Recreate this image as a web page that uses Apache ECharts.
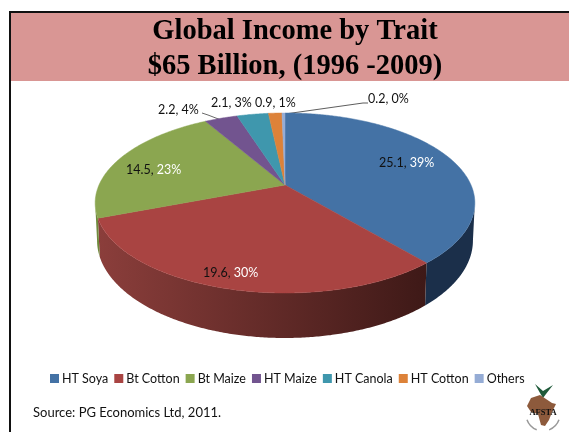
<!DOCTYPE html>
<html>
<head>
<meta charset="utf-8">
<style>
html, body { margin: 0; padding: 0; background: #fff; }
#chart { width: 569px; height: 432px; }
</style>
<script src="https://cdn.jsdelivr.net/npm/echarts@6/dist/echarts.min.js"></script>
</head>
<body>
<div id="chart"></div>
<script>
// values (US$ billion)
var traits = ['HT Soya', 'Bt Cotton', 'Bt Maize', 'HT Maize', 'HT Canola', 'HT Cotton', 'Others']
var income = [25.1, 19.6, 14.5, 2.2, 2.1, 0.9, 0.2]
var shares = [39, 30, 23, 4, 3, 1, 0]

var colors = ['#4472a5', '#a94442', '#8ba650', '#72548f', '#3f97ad', '#dd8239', '#95acd5']
var sideColors = [
  ['#1b2f4a', '#1b2f4a'],
  ['#8b3e3b', '#3e1917'],
  ['#6f8a3c', '#6f8a3c'],
  ['#4a3560', '#4a3560'],
  ['#28606f', '#28606f'],
  ['#8f5424', '#8f5424'],
  ['#5f7090', '#5f7090']
]
// label anchors, left edge / middle
var labelPos = [[379, 163], [203, 273], [126, 170], [158, 110], [211, 103], [255, 103], [368, 99]]
var shareOnDark = [true, true, true, false, false, false, false]

// perspective pie: apex of the slices and the rim projection
var cx = 285
var cy = 185
var rimX = 186
var rimY = 86.4
var tilt = 0.2
var depth = 36

function rim (deg, drop) {
  var a = deg * Math.PI / 180
  var w = 1 + tilt * Math.cos(a)
  var k = drop ? 0.99 : 1
  return [
    cx + rimX * k * Math.sin(a) / w,
    cy - rimY * Math.cos(a) / w + (drop ? depth / w : 0)
  ]
}

var total = income.reduce(function (s, v) { return s + v }, 0)

function startAngle (idx) {
  var s = 0
  for (var i = 0; i < idx; i++) s += income[i]
  return s / total * 360
}

function renderSlice (idx) {
  return function (params, api) {
    var from = startAngle(idx)
    var to = from + api.value(0) / total * 360
    var kids = []
    var pts = [[cx, cy]]
    var d
    for (d = from; d < to; d += 0.5) pts.push(rim(d))
    pts.push(rim(to))

    // side wall, only the part facing the viewer
    var wallFrom = Math.max(from, 101.5)
    var wallTo = Math.min(to, 258.5)
    if (wallTo > wallFrom) {
      var wall = []
      for (d = wallFrom; d < wallTo; d += 0.5) wall.push(rim(d))
      wall.push(rim(wallTo))
      for (d = wallTo; d > wallFrom; d -= 0.5) wall.push(rim(d, true))
      wall.push(rim(wallFrom, true))
      var sc = sideColors[idx]
      kids.push({
        type: 'polygon',
        shape: { points: wall },
        style: {
          fill: new echarts.graphic.LinearGradient(0, 0, 1, 0, [
            { offset: 0, color: sc[0] },
            { offset: 1, color: sc[1] }
          ])
        }
      })
    }
    kids.push({
      type: 'polygon',
      shape: { points: pts },
      style: { fill: colors[idx], stroke: colors[idx], lineWidth: 0.5 }
    })
    kids.push({
      type: 'text',
      z2: 20,
      x: labelPos[idx][0],
      y: labelPos[idx][1],
      style: {
        text: '{a|' + api.value(0).toFixed(1) + ', }{' + (shareOnDark[idx] ? 'w' : 'a') + '|' + shares[idx] + '%}',
        verticalAlign: 'middle',
        rich: {
          a: { fontFamily: 'Lato', fontSize: 12.5, fill: '#111', color: '#111' },
          w: { fontFamily: 'Lato', fontSize: 12.5, fill: '#fff', color: '#fff' }
        }
      }
    })
    return { type: 'group', children: kids }
  }
}

var series = traits.map(function (name, i) {
  return {
    name: name,
    type: 'custom',
    coordinateSystem: 'none',
    silent: true,
    itemStyle: { color: colors[i] },
    renderItem: renderSlice(i),
    data: [[income[i]]]
  }
})

var chart = echarts.init(document.getElementById('chart'))
chart.setOption({
  animation: false,
  title: {
    text: 'Global Income by Trait\n$65 Billion, (1996 -2009)',
    left: 290,
    top: 9,
    textAlign: 'center',
    textStyle: {
      fontFamily: 'Liberation Serif',
      fontWeight: 'bold',
      fontSize: 28.5,
      lineHeight: 35,
      color: '#000'
    }
  },
  legend: {
    left: 45,
    top: 367,
    icon: 'rect',
    itemWidth: 9,
    itemHeight: 9,
    itemGap: 6,
    selectedMode: false,
    textStyle: { fontFamily: 'Lato', fontSize: 12.5, color: '#111', padding: [0, 0, 0, -2] },
    data: traits
  },
  graphic: [
    { type: 'rect', shape: { x: 11, y: 13, width: 558, height: 68 }, style: { fill: '#d99694' }, z: -1 },
    { type: 'rect', shape: { x: 9, y: 11, width: 560, height: 2 }, style: { fill: '#111' }, z: -1 },
    { type: 'rect', shape: { x: 9, y: 11, width: 2, height: 421 }, style: { fill: '#111' }, z: -1 },
    { type: 'text', x: 33, y: 413, style: { text: 'Source: PG Economics Ltd, 2011.', fontFamily: 'Lato', fontSize: 13, fill: '#111', verticalAlign: 'middle' } },
    // leader lines
    { type: 'polyline', shape: { points: [[202, 113], [208, 115], [221, 120]] }, style: { stroke: '#444', lineWidth: 0.8, fill: 'none' } },
    { type: 'polyline', shape: { points: [[285, 114], [363, 103], [368, 103]] }, style: { stroke: '#333', lineWidth: 0.8, fill: 'none' } },
    // AFSTA logo, rough
    { type: 'polygon', shape: { points: [[535, 384], [543, 391], [553, 385], [546, 394], [543, 398], [540, 393]] }, style: { fill: '#1f5a3a' } },
    { type: 'polygon', shape: { points: [[531, 398], [540, 395], [546, 399], [552, 403], [556, 404], [552, 412], [549, 420], [545, 426], [541, 425], [538, 414], [531, 412], [527, 406]] }, style: { fill: '#8d5a3c' } },
    { type: 'text', x: 543, y: 413, style: { text: 'AFSTA', fontFamily: 'Liberation Serif', fontWeight: 'bold', fontSize: 8.5, fill: '#111', align: 'center', verticalAlign: 'middle' } },
    { type: 'arc', shape: { cx: 543, cy: 414, r: 17, startAngle: 0.35, endAngle: 1.2 }, style: { stroke: '#999', lineWidth: 1.5, fill: 'none' } },
    { type: 'arc', shape: { cx: 543, cy: 414, r: 17, startAngle: 1.95, endAngle: 2.8 }, style: { stroke: '#999', lineWidth: 1.5, fill: 'none' } }
  ],
  series: series
})
</script>
</body>
</html>
